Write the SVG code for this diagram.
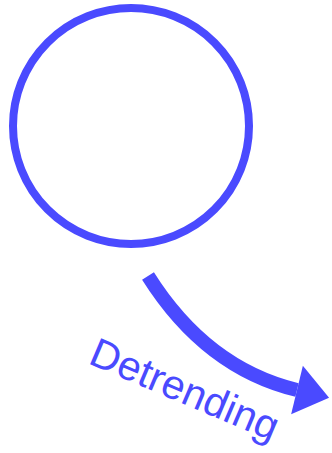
<svg xmlns="http://www.w3.org/2000/svg" width="332" height="453" viewBox="0 0 332 453">
  <style>
    .blue-stroke { stroke: #4a4aff; fill: none; }
    .label { font-family: "Liberation Sans", Arial, sans-serif; font-size: 41px; fill: #4a4aff; }
  </style>
  <defs>
    <marker id="head" markerUnits="userSpaceOnUse" markerWidth="40" markerHeight="60" refX="0" refY="25" orient="auto" overflow="visible">
      <path d="M0,0 L33,25 L0,50 z" fill="#4a4aff"/>
    </marker>
  </defs>
  <rect width="332" height="453" fill="#ffffff"/>
  <g id="circle-node">
    <circle cx="131" cy="126" r="118" class="blue-stroke" stroke-width="8"/>
  </g>
  <g id="connectors">
    <path d="M148,276 Q206,368 297,390" class="blue-stroke" stroke-width="14" marker-end="url(#head)"/>
  </g>
  <g id="label-detrending">
    <text x="87" y="363" class="label" transform="rotate(23 87 363)">Detrending</text>
  </g>
</svg>
